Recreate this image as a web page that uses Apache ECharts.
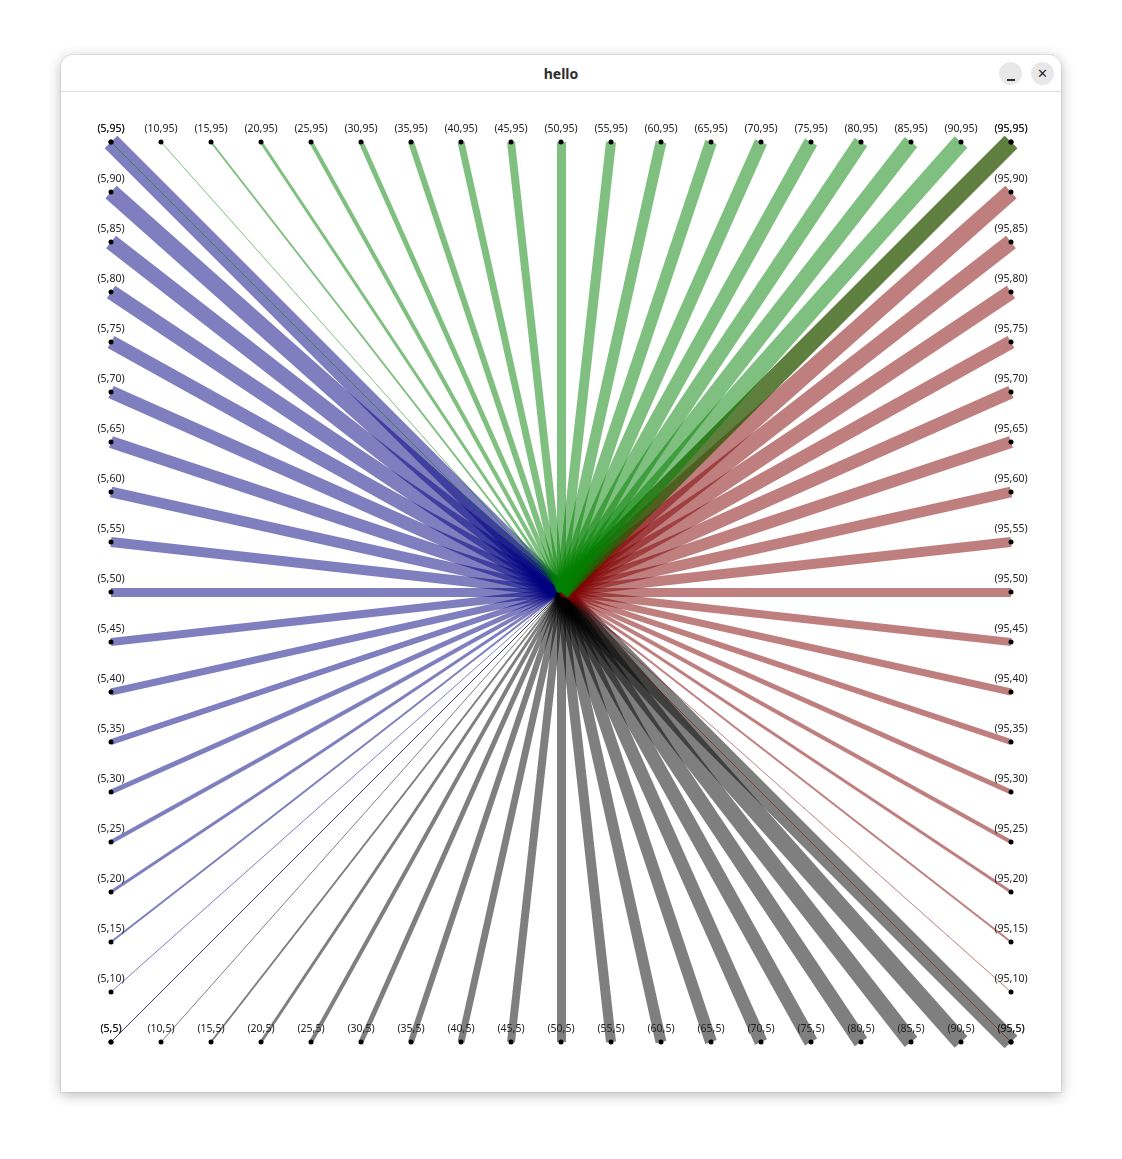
<!DOCTYPE html>
<html>
<head>
<meta charset="UTF-8"/>
<title>hello</title>
<script src="https://cdn.jsdelivr.net/npm/echarts@6/dist/echarts.min.js"></script>
<style>
  html, body { margin: 0; padding: 0; background: #ffffff; }
  .win { position: absolute; left: 61px; top: 55px; width: 1000px; height: 1037px; background: #fff;
    border-radius: 12px 12px 0 0; box-shadow: 0 3px 14px rgba(0,0,0,0.28), 0 0 0 1px rgba(0,0,0,0.06); }
  .bar { position: absolute; left: 0; top: 0; width: 1000px; height: 36px; border-bottom: 1px solid #dedede; }
  .ttl { position: absolute; left: 0; width: 1000px; top: 9px; text-align: center;
    font: bold 14px "Noto Sans", sans-serif; color: #2e2e2e; }
  .btn { position: absolute; top: 7px; width: 23px; height: 23px; border-radius: 50%; background: #e8e8e8;
    font: bold 13px "DejaVu Sans", sans-serif; color: #2e2e2e; text-align: center; line-height: 23px; }
  #chart { position: absolute; left: 0; top: 37px; width: 1000px; height: 1000px; }
</style>
</head>
<body>
<div class="win">
  <div class="bar">
    <div class="ttl">hello</div>
    <div class="btn" style="left:938px;"><span style="display:inline-block;width:8px;height:2px;background:#2e2e2e;vertical-align:-3px;"></span></div>
    <div class="btn" style="left:970px;">&#x2715;</div>
  </div>
  <div id="chart"></div>
</div>
<script type="text/javascript">
// points along each edge of the square, all joined to the centre
var ticks = [5, 10, 15, 20, 25, 30, 35, 40, 45, 50, 55, 60, 65, 70, 75, 80, 85, 90, 95];
var center = [50, 50];
var edgeLow = 5;
var edgeHigh = 95;

// pen width grows along the edge (0 = hairline, drawn as 1px)
var lineWidths = [1, 1, 2, 3, 4, 5, 6, 7, 8, 9, 10, 11, 12, 13, 14, 15, 16, 17, 18];

var edges = [
  { name: 'left',   color: '#000080', pts: ticks.map(function (t) { return [edgeLow, t]; }) },
  { name: 'bottom', color: '#000000', pts: ticks.map(function (t) { return [t, edgeLow]; }) },
  { name: 'right',  color: '#800000', pts: ticks.map(function (t) { return [edgeHigh, t]; }) },
  { name: 'top',    color: '#008000', pts: ticks.map(function (t) { return [t, edgeHigh]; }) }
];

var series = [];
edges.forEach(function (e) {
  series.push({
    name: e.name,
    type: 'lines',
    coordinateSystem: 'cartesian2d',
    z: 2,
    silent: true,
    lineStyle: { color: e.color, opacity: 0.5, cap: 'butt' },
    data: e.pts.map(function (p, i) {
      return { coords: [center, p], lineStyle: { width: lineWidths[i], color: e.color, opacity: 0.5 } };
    })
  });
});
edges.forEach(function (e) {
  series.push({
    name: e.name + '-pts',
    type: 'scatter',
    z: 5,
    symbol: 'circle',
    symbolSize: 5,
    itemStyle: { color: '#000', opacity: 1 },
    label: {
      show: true,
      position: 'top',
      distance: 5,
      fontFamily: 'Noto Sans',
      fontSize: 10.5,
      color: '#222',
      formatter: function (p) { return '(' + p.value[0] + ',' + p.value[1] + ')'; }
    },
    data: e.pts
  });
});

var chart = echarts.init(document.getElementById('chart'));
chart.setOption({
  animation: false,
  grid: { left: 0, right: 0, top: 0, bottom: 0 },
  xAxis: { type: 'value', min: 0, max: 100, show: false },
  yAxis: { type: 'value', min: 0, max: 100, show: false },
  series: series
});
</script>
</body>
</html>
